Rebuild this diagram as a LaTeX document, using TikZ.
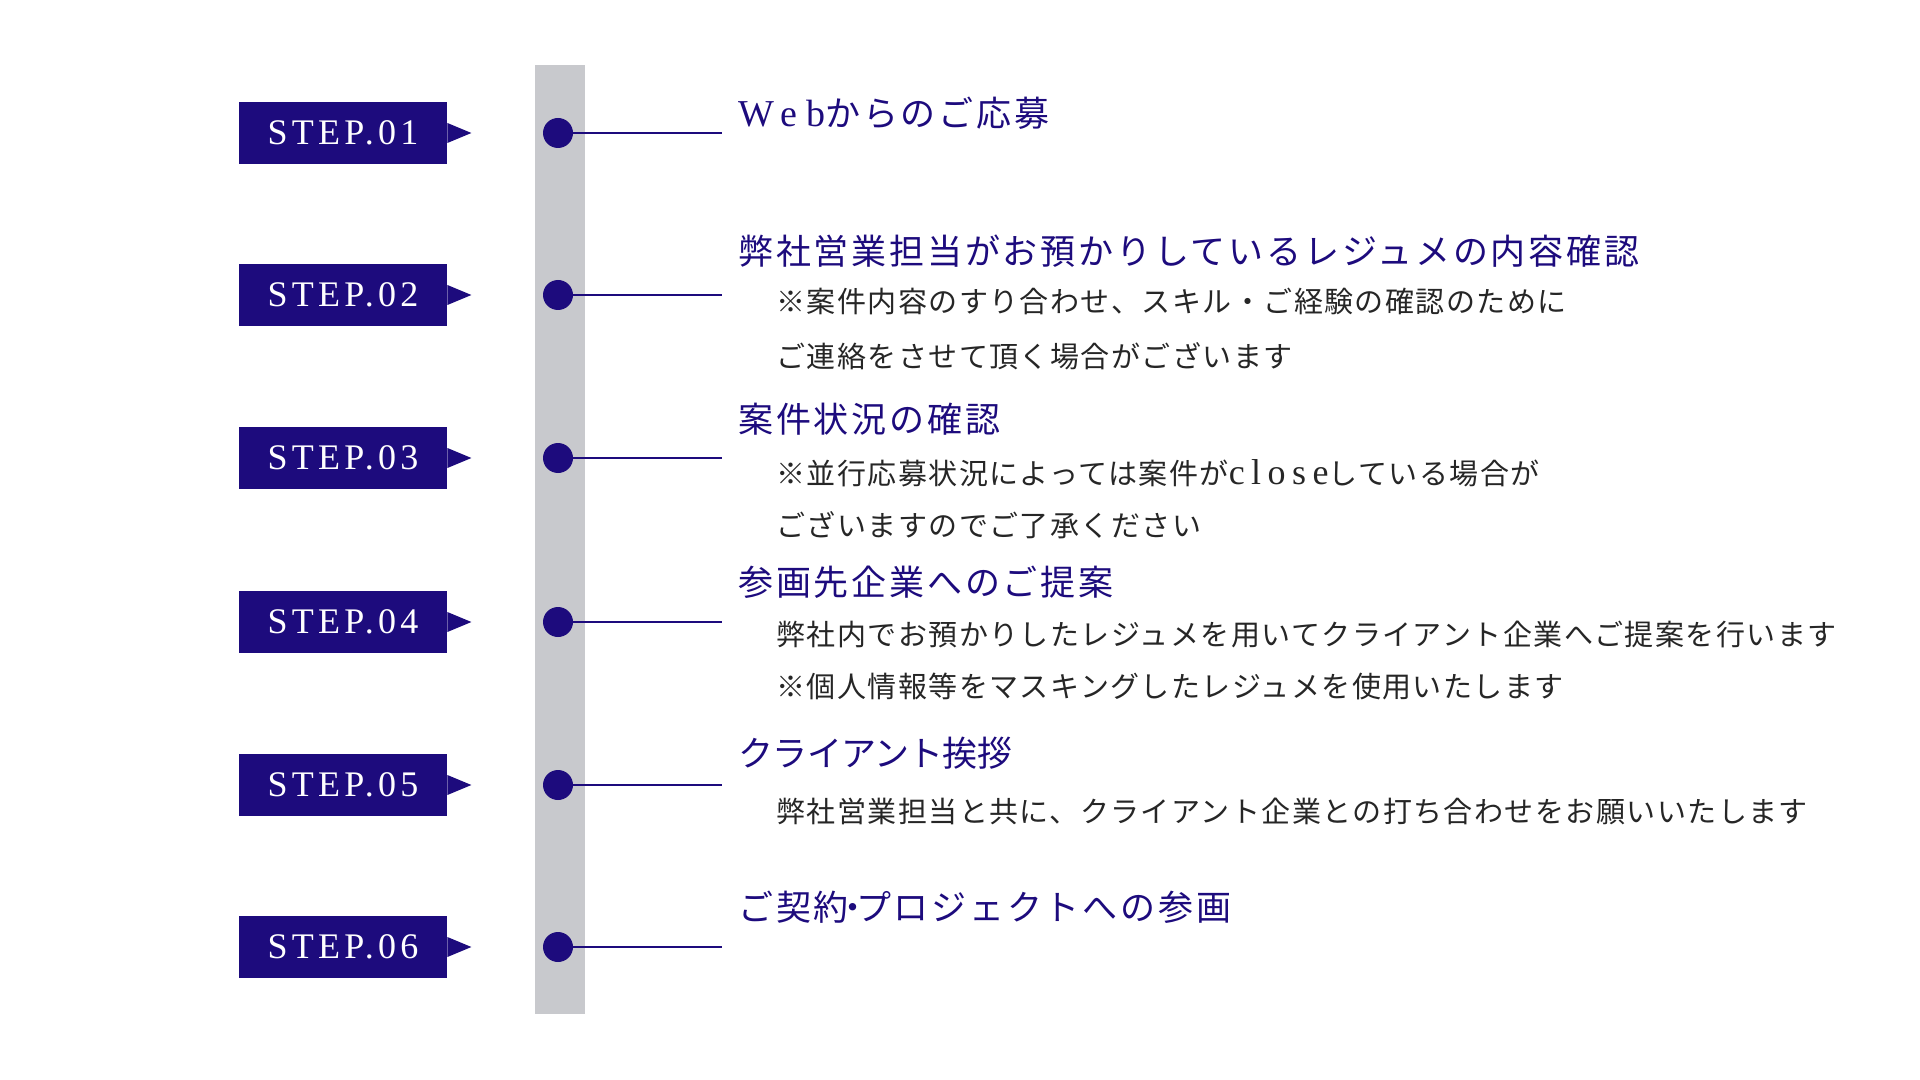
\documentclass[tikz,border=0pt]{standalone}
\usepackage{fontspec}
\setmainfont{Liberation Serif}
\newfontfamily\jp{Noto Sans CJK JP}[LetterSpace=8]
\newfontfamily\jpsub{Noto Sans CJK JP}[LetterSpace=5]
\definecolor{navy}{HTML}{1D0B7D}
\definecolor{bargray}{HTML}{C8C9CD}

\begin{document}
\begin{tikzpicture}[x=0.5pt,y=-0.5pt,
  stepbox/.style={fill=navy,text=white,minimum width=104pt,minimum height=31pt,inner sep=0pt,
    font=\fontsize{18}{18}\selectfont\addfontfeature{LetterSpace=12}},
  dot/.style={circle,fill=navy,minimum size=15pt,inner sep=0pt},
  ttl/.style={anchor=base west,inner sep=0pt,text=navy,font=\jp\fontsize{17.5}{17.5}\selectfont},
  sub/.style={anchor=base west,inner sep=0pt,text=black!85,font=\jpsub\fontsize{14.5}{14.5}\selectfont}]
  \useasboundingbox (0,0) rectangle (1920,1080);
  % eje vertical
  \fill[bargray] (535,65) rectangle (585,1014);
  % pasos
  \foreach \i/\y in {1/133,2/295,3/458,4/622,5/785,6/947}{
    \node[stepbox] (s\i) at (343,\y) {STEP.0\i};
    \fill[navy] (s\i.east) ++(0,-10) -- ++(24,10) -- ++(-24,10) -- cycle;
    \node[dot] (d\i) at (558,\y) {};
    \coordinate (e\i) at (722,\y);
    \draw[navy,line width=0.8pt] (d\i) -- (e\i);
  }
  % textos
  \node[ttl] (t1) at (738,127) {{\rmfamily\fontsize{19}{19}\selectfont\addfontfeature{LetterSpace=24}Web}からのご応募};
  \node[ttl] (t2) at (738,265) {弊社営業担当がお預かりしているレジュメの内容確認};
  \node[sub] (t2a) at (776,313) {※案件内容のすり合わせ、スキル・ご経験の確認のために};
  \node[sub] (t2b) at (776,367) {ご連絡をさせて頂く場合がございます};
  \node[ttl] (t3) at (738,432) {案件状況の確認};
  \node[sub] (t3a) at (776,484) {※並行応募状況によっては案件が{\rmfamily\fontsize{18}{18}\selectfont\addfontfeature{LetterSpace=18}close}している場合が};
  \node[sub] (t3b) at (776,536) {ございますのでご了承ください};
  \node[ttl] (t4) at (738,595) {参画先企業へのご提案};
  \node[sub] (t4a) at (776,645) {弊社内でお預かりしたレジュメを用いてクライアント企業へご提案を行います};
  \node[sub] (t4b) at (776,697) {※個人情報等をマスキングしたレジュメを使用いたします};
  \node[ttl] (t5) at (738,766) {\addfontfeature{LetterSpace=-2}クライアント挨拶};
  \node[sub] (t5a) at (776,822) {弊社営業担当と共に、クライアント企業との打ち合わせをお願いいたします};
  \node[ttl] (t6) at (738,920) {ご契約\kern-7pt・\kern-7ptプロジェクトへの参画};
\end{tikzpicture}
\end{document}
